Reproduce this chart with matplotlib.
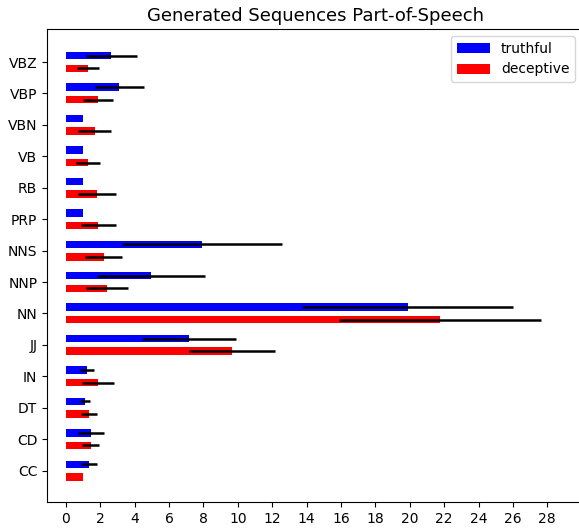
import matplotlib
matplotlib.use('Agg')
import matplotlib.pyplot as plt
import numpy as np

## Data ##
tags = ['CC', 'CD', 'DT', 'IN', 'JJ', 'NN', 'NNP', 'NNS', 'PRP', 'RB', 'VB', 'VBN', 'VBP', 'VBZ']

truthful_mean = [1.32, 1.44, 1.12, 1.24, 7.16, 19.87, 4.95, 7.93, 1.0, 1.0, 1.0, 1.0, 3.10, 2.63]
truthful_err = [0.46, 0.76, 0.31, 0.40, 2.71, 6.12, 3.12, 4.65, 0.0, 0.0, 0.0, 0.0, 1.42, 1.48]

deceptive_mean = [1.0, 1.44, 1.32, 1.88, 9.68, 21.75, 2.37, 2.19, 1.88, 1.80, 1.30, 1.69, 1.88, 1.30]
deceptive_err = [0.0, 0.49, 0.46, 0.93, 2.50, 5.86, 1.23, 1.08, 1.03, 1.10, 0.71, 0.96, 0.87, 0.63]

ind = np.arange(len(tags))
height = 0.24

fig = plt.figure(figsize=(5.79, 5.29), dpi=100)
# axes run a little past the right edge: the reference is cropped there
ax = fig.add_axes([47 / 579, 27 / 529, 545 / 579, 473 / 529])

err_kw = dict(ecolor='black', elinewidth=1.8, capsize=0)
ax.barh(ind + 0.2, truthful_mean, height, xerr=truthful_err, color='blue',
        label='truthful', error_kw=err_kw)
ax.barh(ind - 0.2, deceptive_mean, height, xerr=deceptive_err, color='red',
        label='deceptive', error_kw=err_kw)

ax.set_yticks(ind)
ax.set_yticklabels(tags)
ax.set_xticks(np.arange(0, 29, 2))
# keep the same data->pixel scale as the reference (0 at x=66, 28 at x=547)
ax.set_xlim(-1.1, 30.6)
ax.set_ylim(-1.0, 14.05)
ax.set_title('Generated Sequences Part-of-Speech', fontsize=13, x=0.492)
ax.legend(loc='upper right', bbox_to_anchor=(575 / 579, 1 - 36 / 529),
          bbox_transform=fig.transFigure, borderaxespad=0, handlelength=2.4)

fig.savefig('out.png', dpi=100)
